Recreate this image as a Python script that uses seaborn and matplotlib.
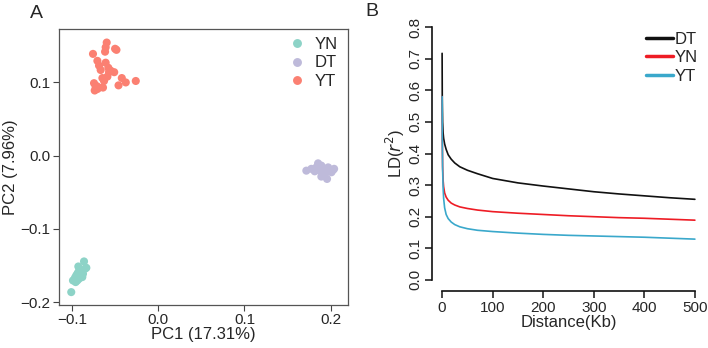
import matplotlib
matplotlib.use("Agg")
import matplotlib.pyplot as plt
import seaborn as sns
import pandas as pd

# PCA coordinates
yn_pc1 = [-0.0988, -0.0965, -0.0950, -0.0934, -0.0919, -0.0903, -0.0888, -0.0872, -0.0849, -0.0833,
          -0.0880, -0.0919, -0.0957, -0.0899, -0.0926, -0.0860, -0.1008, -0.0938, -0.0911]
yn_pc2 = [-0.1705, -0.1668, -0.1636, -0.1605, -0.1577, -0.1559, -0.1591, -0.1614, -0.1545, -0.1532,
          -0.1659, -0.1682, -0.1727, -0.1636, -0.1514, -0.1445, -0.1864, -0.1705, -0.1614]
dt_pc1 = [0.1717, 0.1775, 0.1833, 0.1853, 0.1891, 0.1930, 0.1970, 0.2027, 0.2008, 0.1950,
          0.1910, 0.1891, 0.1957, 0.1872, 0.1814, 0.1988, 0.2039]
dt_pc2 = [-0.0205, -0.0180, -0.0160, -0.0105, -0.0136, -0.0180, -0.0160, -0.0195, -0.0227, -0.0227,
          -0.0250, -0.0286, -0.0318, -0.0205, -0.0214, -0.0195, -0.0180]
yt_pc1 = [-0.0597, -0.0500, -0.0484, -0.0609, -0.0616, -0.0756, -0.0705, -0.0609, -0.0686, -0.0667,
          -0.0578, -0.0550, -0.0510, -0.0589, -0.0647, -0.0422, -0.0376, -0.0260, -0.0460, -0.0744,
          -0.0713, -0.0686, -0.0736, -0.0705, -0.0640, -0.0725, -0.0628, -0.0570]
yt_pc2 = [0.1545, 0.1460, 0.1445, 0.1480, 0.1420, 0.1390, 0.1295, 0.1270, 0.1230, 0.1170,
          0.1200, 0.1160, 0.1140, 0.1080, 0.1060, 0.1060, 0.1000, 0.1020, 0.0960, 0.0990,
          0.0950, 0.0930, 0.0890, 0.0910, 0.0930, 0.0940, 0.1020, 0.1140]

# LD decay
distance = [0, 0.3, 1, 2, 3, 5, 8, 12, 18, 25, 35, 50, 70, 100, 150, 200, 250, 300, 350, 400, 450, 500]
ld_dt = [0.717, 0.58, 0.50, 0.465, 0.448, 0.43, 0.413, 0.396, 0.382, 0.37, 0.358, 0.347, 0.336, 0.321,
         0.307, 0.297, 0.288, 0.279, 0.272, 0.266, 0.260, 0.255]
ld_yn = [0.58, 0.45, 0.36, 0.315, 0.295, 0.275, 0.262, 0.252, 0.243, 0.237, 0.231, 0.226, 0.221, 0.216,
         0.211, 0.207, 0.203, 0.200, 0.197, 0.195, 0.192, 0.189]
ld_yt = [0.58, 0.45, 0.35, 0.29, 0.258, 0.228, 0.207, 0.194, 0.183, 0.175, 0.168, 0.162, 0.157, 0.153,
         0.148, 0.144, 0.141, 0.139, 0.137, 0.135, 0.132, 0.129]

pca = pd.DataFrame({
    "PC1": yn_pc1 + dt_pc1 + yt_pc1,
    "PC2": yn_pc2 + dt_pc2 + yt_pc2,
    "pop": ["YN"] * len(yn_pc1) + ["DT"] * len(dt_pc1) + ["YT"] * len(yt_pc1),
})
ld = pd.DataFrame({
    "dist": distance * 3,
    "r2": ld_dt + ld_yn + ld_yt,
    "pop": ["DT"] * len(distance) + ["YN"] * len(distance) + ["YT"] * len(distance),
})

sns.set_style("ticks")
plt.rcParams["font.family"] = ["Liberation Sans", "DejaVu Sans"]

fig = plt.figure(figsize=(7.08, 3.48), dpi=100)
axA = fig.add_axes([59 / 708, 43 / 348, 289 / 708, 276 / 348])
axB = fig.add_axes([432 / 708, 58 / 348, 273 / 708, 273 / 348])

# panel A
sns.scatterplot(data=pca, x="PC1", y="PC2", hue="pop", hue_order=["YN", "DT", "YT"],
                palette=["#8DD3C7", "#BEBADA", "#FB8072"], s=34, linewidth=0, ax=axA)
axA.set_xlim(-0.115, 0.22)
axA.set_ylim(-0.204, 0.173)
axA.set_xticks([-0.1, 0.0, 0.1, 0.2])
axA.set_xticklabels(["\u22120.1", "0.0", "0.1", "0.2"])
axA.set_yticks([-0.2, -0.1, 0.0, 0.1])
axA.set_yticklabels(["\u22120.2", "\u22120.1", "0.0", "0.1"])
axA.set_xlabel("PC1 (17.31%)", fontsize=12, labelpad=0)
axA.set_ylabel("PC2 (7.96%)", fontsize=12, labelpad=2)
axA.tick_params(labelsize=11, length=4, width=0.8, color="#444444", pad=2)
for sp in axA.spines.values():
    sp.set_color("#555555")
    sp.set_linewidth(0.9)
sns.move_legend(axA, loc="upper right", bbox_to_anchor=(1.015, 1.025), frameon=False, title=None,
                fontsize=12, handletextpad=0.05, labelspacing=0.2, markerscale=1.1)

# panel B
sns.lineplot(data=ld, x="dist", y="r2", hue="pop", hue_order=["DT", "YN", "YT"],
             palette=["#111111", "#EE1C25", "#3AA8CB"], linewidth=1.2, ax=axB)
axB.set_xlim(-20, 520)
axB.set_ylim(-0.032, 0.832)
axB.set_xticks([0, 100, 200, 300, 400, 500])
axB.set_yticks([0.0, 0.1, 0.2, 0.3, 0.4, 0.5, 0.6, 0.7, 0.8])
axB.set_yticklabels(["0.0", "0.1", "0.2", "0.3", "0.4", "0.5", "0.6", "0.7", "0.8"],
                    rotation=90, va="center")
axB.spines["top"].set_visible(False)
axB.spines["right"].set_visible(False)
axB.spines["left"].set_bounds(0, 0.8)
axB.spines["bottom"].set_bounds(0, 500)
axB.spines["bottom"].set_position(("outward", 1))
for sp in ["left", "bottom"]:
    axB.spines[sp].set_linewidth(1.2)
    axB.spines[sp].set_color("#111111")
axB.tick_params(labelsize=11, length=5, width=1.2, pad=2)
axB.set_xlabel("Distance(Kb)", fontsize=12, labelpad=0)
axB.set_ylabel("LD($\\it{r}^2$)", fontsize=12, labelpad=1)
sns.move_legend(axB, loc="upper right", bbox_to_anchor=(1.03, 1.0), frameon=False, title=None,
                fontsize=12, handletextpad=0.15, labelspacing=0.2, handlelength=1.6)
for line in axB.get_legend().get_lines():
    line.set_linewidth(2.5)

fig.text(30 / 708, 1 - 14 / 348, "A", fontsize=14, va="center")
fig.text(365 / 708, 1 - 12 / 348, "B", fontsize=14, va="center")

fig.savefig("out.png", dpi=100)
